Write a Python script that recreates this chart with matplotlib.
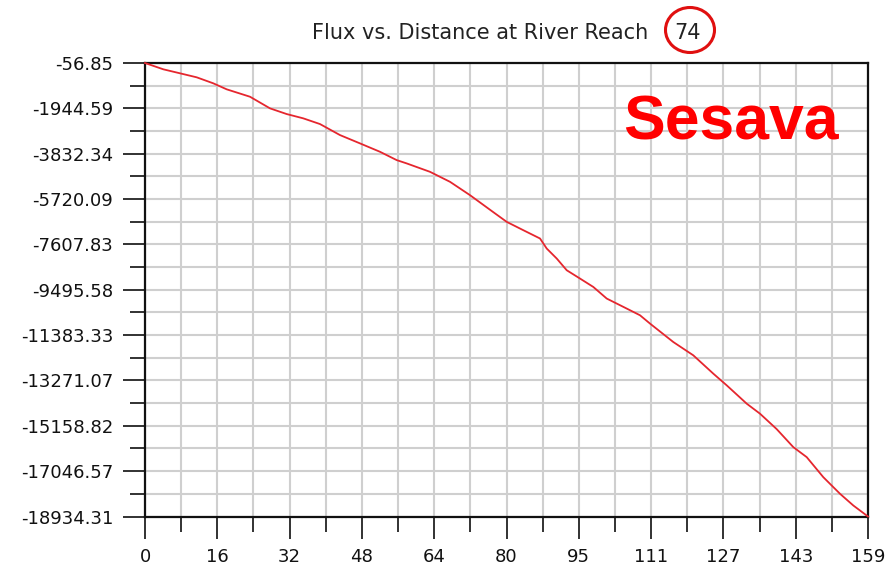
import numpy as np
import matplotlib
matplotlib.use("Agg")
import matplotlib.pyplot as plt
from matplotlib.patches import Ellipse

# ---- data ----
distance = [0, 4.02, 7.70, 11.37, 15.02, 17.97, 23.09, 27.49, 31.16, 34.81,
            38.49, 42.88, 47.28, 51.68, 55.35, 57.55, 62.68, 67.08, 71.47,
            76.60, 79.55, 83.19, 86.87, 88.34, 90.54, 92.74, 95.66, 98.59,
            101.54, 105.94, 108.86, 111.06, 116.18, 120.58, 124.98, 127.93,
            132.33, 135.25, 138.92, 142.57, 145.52, 149.17, 152.84, 155.77, 159]
flux = [-56.85, -319, -486, -653, -903, -1153, -1461, -1945, -2182, -2361,
        -2599, -3057, -3403, -3753, -4099, -4237, -4587, -5003, -5558,
        -6266, -6670, -7016, -7362, -7779, -8195, -8683, -9029, -9379,
        -9862, -10279, -10558, -10904, -11671, -12225, -12988, -13475,
        -14238, -14655, -15297, -16046, -16463, -17297, -17988, -18476, -18934.31]
y_tick_labels = ["-56.85", "-1944.59", "-3832.34", "-5720.09", "-7607.83",
                 "-9495.58", "-11383.33", "-13271.07", "-15158.82", "-17046.57",
                 "-18934.31"]
x_tick_labels = ["0", "16", "32", "48", "64", "80", "95", "111", "127", "143", "159"]
title_text = "Flux vs. Distance at River Reach"
reach_id = "74"
site_name = "Sesava"

W, H = 896, 571
fig = plt.figure(figsize=(W / 100, H / 100), dpi=100)
L, R, T, B = 145, 868, 63, 516.5
ax = fig.add_axes([L / W, 1 - B / H, (R - L) / W, (B - T) / H])

ymax = float(y_tick_labels[0])
ymin = float(y_tick_labels[-1])
xmax = float(distance[-1])
ax.set_xlim(0, xmax)
ax.set_ylim(ymin, ymax)

yt = np.linspace(ymax, ymin, len(y_tick_labels))
xt = np.linspace(0, xmax, len(x_tick_labels))
ax.set_yticks(yt)
ax.set_yticklabels(y_tick_labels)
ax.set_xticks(xt)
ax.set_xticklabels(x_tick_labels)
ax.set_yticks((yt[:-1] + yt[1:]) / 2, minor=True)
ax.set_xticks((xt[:-1] + xt[1:]) / 2, minor=True)

ax.grid(True, which="both", color="#cfcfcf", linewidth=1.5, zorder=0)
ax.set_axisbelow(True)

ax.tick_params(which="major", length=16, width=1.3, color="#222222",
               labelsize=13, pad=7, labelcolor="#111111")
ax.tick_params(which="minor", length=11, width=1.3, color="#222222")
for sp in ax.spines.values():
    sp.set_linewidth(1.6)
    sp.set_color("#111111")

ax.plot(distance, flux, color="#e5262e", linewidth=1.3, zorder=3, clip_on=False)

# title
fig.text(312 / W, 1 - 33 / H, title_text, ha="left", va="center",
         fontsize=15, color="#222222")
fig.text(687 / W, 1 - 33 / H, reach_id, ha="center", va="center",
         fontsize=15, color="#222222")
circ = Ellipse((690 / W, 1 - 30 / H), 49 / W, 45 / H, transform=fig.transFigure,
               fill=False, edgecolor="#e01010", linewidth=2.2)
fig.add_artist(circ)

ax.text(731 / W, 1 - 123 / H, site_name, transform=fig.transFigure,
        ha="center", va="center", fontsize=45, fontweight="bold",
        family="Liberation Sans", color="#ff0000", zorder=5)

fig.savefig("out.png", dpi=100, facecolor="white")
